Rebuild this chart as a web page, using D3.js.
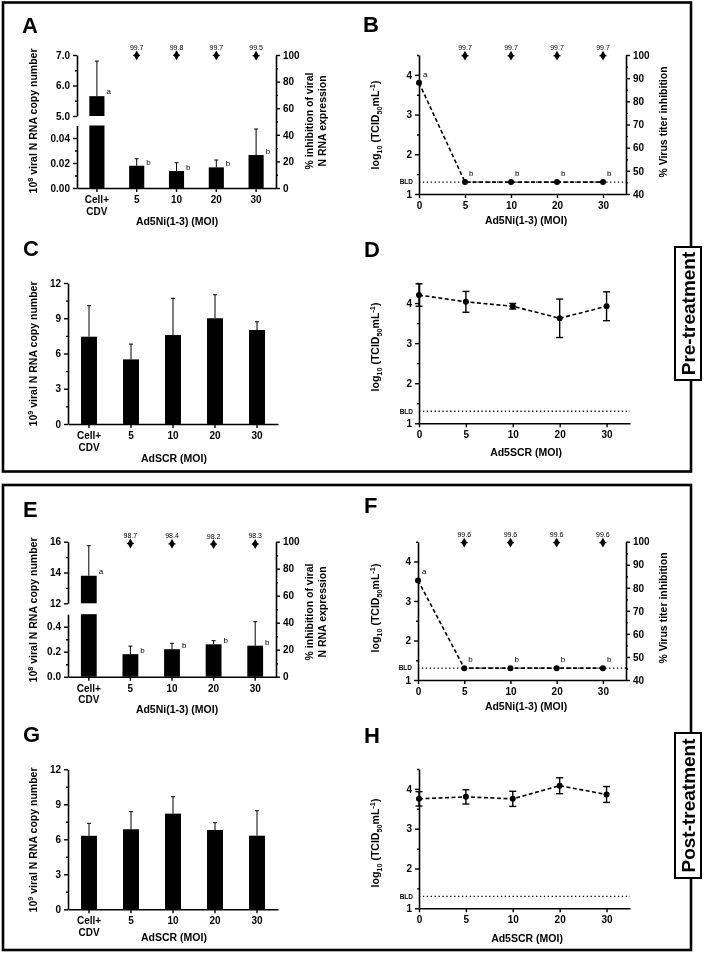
<!DOCTYPE html>
<html><head><meta charset="utf-8">
<script src="https://cdn.jsdelivr.net/npm/d3@7"></script>
<style>
body{margin:0;background:#fff;}
svg{display:block;font-family:"Liberation Sans",Arial,sans-serif;will-change:transform;}
text{fill:#000;}
</style></head><body>
<svg id="c" width="709" height="961"></svg>
<script>
// ---------- DATA ----------
const barCats = ["Cell+\nCDV","5","10","20","30"];
const moiCats = ["0","5","10","20","30"];
const BLD = 1.3;

// A: pre-treatment, Ad5Ni(1-3), qPCR (10^8 copies)
const aMean = [5.65, 0.0178, 0.0136, 0.0165, 0.0264];
const aSD   = [1.15, 0.0056, 0.0066, 0.0059, 0.0208];
const aSig  = ["a","b","b","b","b"];
const aInhib = [99.7, 99.8, 99.7, 99.5];

// B: pre-treatment, Ad5Ni(1-3), titer
const bMean = [3.8, 1.3, 1.3, 1.3, 1.3];
const bSig  = ["a","b","b","b","b"];
const bInhib = [99.7, 99.7, 99.7, 99.7];

// C: pre-treatment, AdSCR, qPCR (10^9)
const cMean = [7.43, 5.5, 7.57, 9.0, 8.0];
const cSD   = [2.64, 1.3, 3.13, 2.0, 0.7];

// D: pre-treatment, Ad5SCR titer
const dMean = [4.2, 4.03, 3.92, 3.62, 3.92];
const dSD   = [0.28, 0.26, 0.07, 0.48, 0.36];

// E: post-treatment, Ad5Ni(1-3), qPCR (10^8)
const eMean = [13.79, 0.18, 0.22, 0.259, 0.248];
const eSD   = [1.95, 0.065, 0.047, 0.029, 0.192];
const eSig  = ["a","b","b","b","b"];
const eInhib = [98.7, 98.4, 98.2, 98.3];

// F: post-treatment, Ad5Ni(1-3), titer
const fMean = [3.52, 1.3, 1.3, 1.3, 1.3];
const fSig  = ["a","b","b","b","b"];
const fInhib = [99.6, 99.6, 99.6, 99.6];

// G: post-treatment, AdSCR, qPCR (10^9)
const gMean = [6.3, 6.86, 8.2, 6.8, 6.31];
const gSD   = [1.07, 1.51, 1.45, 0.62, 2.14];

// H: post-treatment, Ad5SCR titer
const hMean = [3.75, 3.8, 3.75, 4.08, 3.86];
const hSD   = [0.18, 0.18, 0.19, 0.2, 0.2];

// ---------- DRAW ----------
const svg = d3.select("#c");
const TF = 10; // tick font

function styleAxis(g){
  g.attr("font-family", null).attr("font-size", null);
  g.selectAll("path.domain").attr("stroke","#000").attr("stroke-width",1.6);
  g.selectAll(".tick line").attr("stroke","#000").attr("stroke-width",1.4);
  g.selectAll(".tick text").attr("font-size",TF).attr("font-weight","bold").attr("fill","#000");
  return g;
}
function multiline(g){
  g.selectAll(".tick text").each(function(){
    const t = d3.select(this); const parts = t.text().split("\n");
    if(parts.length>1){
      t.text(null).attr("dy",null);
      parts.forEach((p,i)=>t.append("tspan").attr("x",0).attr("dy", i===0?"0.71em":"1.15em").text(p));
    }
  });
}
function leftAxis(scale, x, ticks, minor, fmt, side){
  const mk = side==="right" ? d3.axisRight : d3.axisLeft;
  const g = svg.append("g").attr("transform",`translate(${x},0)`)
    .call(mk(scale).tickValues(ticks).tickFormat(fmt).tickSize(4).tickSizeOuter(0).tickPadding(3));
  styleAxis(g);
  if(minor && minor.length){
    const m = svg.append("g").attr("transform",`translate(${x},0)`)
      .call(mk(scale).tickValues(minor).tickFormat("").tickSize(2).tickSizeOuter(0));
    styleAxis(m); m.select("path.domain").remove();
  }
  return g;
}
function rich(sel, parts, fs){
  let off = 0;
  parts.forEach(([txt,type])=>{
    let target = type==="sup" ? -fs*0.38 : type==="sub" ? fs*0.28 : 0;
    sel.append("tspan").attr("dy", target-off).attr("font-size", type==="n"?fs:fs*0.7).text(txt);
    off = target;
  });
}
function vTitle(x, y, parts, fs){
  const t = svg.append("text").attr("transform",`translate(${x},${y}) rotate(-90)`)
    .attr("text-anchor","middle").attr("font-weight","bold").attr("font-size",fs);
  rich(t, parts, fs);
  return t;
}
function hTitle(x, y, txt){
  svg.append("text").attr("x",x).attr("y",y).attr("text-anchor","middle")
    .attr("font-weight","bold").attr("font-size",10.5).text(txt);
}
function letter(x, y, L){
  svg.append("text").attr("x",x).attr("y",y).attr("font-weight","bold").attr("font-size",22).text(L);
}
function inhibMarkers(xs, yR, vals){
  const g = svg.append("g");
  vals.forEach((v,i)=>{
    const x = xs[i], y = yR(v);
    g.append("path").attr("d", d3.symbol(d3.symbolDiamond, 28)()).attr("transform",`translate(${x},${y})`).attr("fill","#000");
    g.append("line").attr("x1",x-3.5).attr("x2",x+3.5).attr("y1",y).attr("y2",y).attr("stroke","#000").attr("stroke-width",1.2);
    g.append("text").attr("x",x).attr("y",y-5.5).attr("text-anchor","middle").attr("font-size",7).text(d3.format(".1f")(v));
  });
}

// ----- broken bar panel (A, E) -----
function brokenPanel(c){
  const x = d3.scaleBand().domain(barCats).range([c.x0, c.x1]).paddingInner(0.62).paddingOuter(0.31);
  const yLow = d3.scaleLinear().domain([0, c.lowMax]).range([c.yBase, c.lowTop]);
  const yUp = d3.scaleLinear().domain([c.upMin, c.upMax]).range([c.upBot, c.upTop]);
  const yR = d3.scaleLinear().domain([0,100]).range([c.yBase, c.upTop]);
  const g = svg.append("g");
  c.mean.forEach((m,i)=>{
    const xl = x(barCats[i]), w = x.bandwidth();
    const top = m + c.sd[i];
    if(m > c.lowMax){
      g.append("rect").attr("x",xl).attr("width",w).attr("y",yLow(c.lowMax)).attr("height",yLow(0)-yLow(c.lowMax));
      g.append("rect").attr("x",xl).attr("width",w).attr("y",yUp(m)).attr("height",yUp(c.upMin)-yUp(m));
      g.append("line").attr("x1",xl+w/2).attr("x2",xl+w/2).attr("y1",yUp(m)).attr("y2",yUp(top)).attr("stroke","#000").attr("stroke-width",1);
      g.append("line").attr("x1",xl+w/2-2).attr("x2",xl+w/2+2).attr("y1",yUp(top)).attr("y2",yUp(top)).attr("stroke","#000").attr("stroke-width",1);
      g.append("text").attr("x",xl+w+2).attr("y",yUp(m)-2).attr("font-size",8).text(c.sig[i]);
    } else {
      g.append("rect").attr("x",xl).attr("width",w).attr("y",yLow(m)).attr("height",yLow(0)-yLow(m));
      g.append("line").attr("x1",xl+w/2).attr("x2",xl+w/2).attr("y1",yLow(m)).attr("y2",yLow(top)).attr("stroke","#000").attr("stroke-width",1);
      g.append("line").attr("x1",xl+w/2-2).attr("x2",xl+w/2+2).attr("y1",yLow(top)).attr("y2",yLow(top)).attr("stroke","#000").attr("stroke-width",1);
      g.append("text").attr("x",xl+w+2).attr("y",yLow(m)-1).attr("font-size",8).text(c.sig[i]);
    }
  });
  leftAxis(yLow, c.x0, c.lowTicks, c.lowMinor, d3.format(c.lowFmt));
  leftAxis(yUp, c.x0, c.upTicks, c.upMinor, d3.format(c.upFmt));
  leftAxis(yR, c.x1, [0,20,40,60,80,100], [10,30,50,70,90], d3.format("d"), "right");
  const gx = svg.append("g").attr("transform",`translate(0,${c.yBase})`)
    .call(d3.axisBottom(x).tickSize(4).tickSizeOuter(0).tickPadding(4));
  styleAxis(gx); multiline(gx);
  inhibMarkers(barCats.slice(1).map(k=>x(k)+x.bandwidth()/2), yR, c.inhib);
}

// ----- simple bar panel (C, G) -----
function barPanel(c){
  const x = d3.scaleBand().domain(barCats).range([c.x0, c.x1]).paddingInner(0.62).paddingOuter(0.31);
  const y = d3.scaleLinear().domain([0,12]).range([c.yBase, c.yTop]);
  const g = svg.append("g");
  c.mean.forEach((m,i)=>{
    const xl = x(barCats[i]), w = x.bandwidth(), top = m + c.sd[i];
    g.append("rect").attr("x",xl).attr("width",w).attr("y",y(m)).attr("height",y(0)-y(m));
    g.append("line").attr("x1",xl+w/2).attr("x2",xl+w/2).attr("y1",y(m)).attr("y2",y(top)).attr("stroke","#000").attr("stroke-width",1);
    g.append("line").attr("x1",xl+w/2-2).attr("x2",xl+w/2+2).attr("y1",y(top)).attr("y2",y(top)).attr("stroke","#000").attr("stroke-width",1);
  });
  leftAxis(y, c.x0, [0,3,6,9,12], [1.5,4.5,7.5,10.5], d3.format("d"));
  const gx = svg.append("g").attr("transform",`translate(0,${c.yBase})`)
    .call(d3.axisBottom(x).tickSize(4).tickSizeOuter(0).tickPadding(4));
  styleAxis(gx); multiline(gx);
}

// ----- line panel (B, D, F, H) -----
function linePanel(c){
  const x = d3.scaleLinear().domain([0,4.5]).range([c.x0, c.x1]);
  const y = d3.scaleLinear().domain([1,4.5]).range([c.yBase, c.yTop]);
  const idx = moiCats.map((_,i)=>i);
  const g = svg.append("g");
  g.append("line").attr("x1",x(0)).attr("x2",x(4.5)).attr("y1",y(BLD)).attr("y2",y(BLD))
    .attr("stroke","#000").attr("stroke-width",1.3).attr("stroke-dasharray","1.3,2.6");
  g.append("text").attr("x",x(0)-6).attr("y",y(BLD)+2.3).attr("text-anchor","end")
    .attr("font-size",6.5).attr("font-weight","bold").text("BLD");
  g.append("path").datum(c.mean).attr("fill","none").attr("stroke","#000").attr("stroke-width",1.6)
    .attr("stroke-dasharray","4,2.5")
    .attr("d", d3.line().x((d,i)=>x(idx[i])).y(d=>y(d)));
  if(c.sd){
    c.mean.forEach((m,i)=>{
      const xx = x(idx[i]);
      const lo = Math.max(1, m - c.sd[i]), hi = m + c.sd[i];
      g.append("line").attr("x1",xx).attr("x2",xx).attr("y1",y(lo)).attr("y2",y(hi)).attr("stroke","#000").attr("stroke-width",1.4);
      [lo,hi].forEach(v=>g.append("line").attr("x1",xx-3.5).attr("x2",xx+3.5).attr("y1",y(v)).attr("y2",y(v)).attr("stroke","#000").attr("stroke-width",1.4));
    });
  }
  c.mean.forEach((m,i)=>{
    g.append("circle").attr("cx",x(idx[i])).attr("cy",y(m)).attr("r",3).attr("fill","#000");
    if(c.sig) g.append("text").attr("x",x(idx[i])+4).attr("y",y(m)-6).attr("font-size",8).text(c.sig[i]);
  });
  leftAxis(y, c.x0, [1,2,3,4], [1.5,2.5,3.5,4.5], d3.format("d"));
  const gx = svg.append("g").attr("transform",`translate(0,${c.yBase})`)
    .call(d3.axisBottom(x).tickValues(idx).tickFormat(i=>moiCats[i]).tickSize(4).tickSizeOuter(0).tickPadding(4));
  styleAxis(gx);
  if(c.inhib){
    const yR = d3.scaleLinear().domain([40,100]).range([c.yBase, c.yTop]);
    leftAxis(yR, c.x1, [40,50,60,70,80,90,100], [45,55,65,75,85,95], d3.format("d"), "right");
    inhibMarkers(idx.slice(1).map(i=>x(i)), yR, c.inhib);
  }
}

function frame(y0,h){
  svg.append("rect").attr("x",3).attr("y",y0).attr("width",688).attr("height",h)
    .attr("fill","none").attr("stroke","#000").attr("stroke-width",2.6);
}
frame(2.5,469); frame(485,465);

const logTitle = [["log","n"],["10","sub"],[" (TCID","n"],["50","sub"],["mL","n"],["-1","sup"],[")","n"]];
function pctTwoLine(x,y){
  const t=svg.append("text").attr("transform",`translate(${x},${y}) rotate(-90)`).attr("text-anchor","middle").attr("font-weight","bold").attr("font-size",10.5);
  t.append("tspan").attr("x",0).text("% inhibition of viral");
  t.append("tspan").attr("x",0).attr("dy",12.5).text("N RNA expression");
}
function virusTitle(x,y){
  svg.append("text").attr("transform",`translate(${x},${y}) rotate(-90)`).attr("text-anchor","middle").attr("font-weight","bold").attr("font-size",10.5).text("% Virus titer inhibition");
}

// Panel A
letter(22,33,"A");
brokenPanel({x0:77,x1:276,yBase:188,lowTop:125.5,upBot:116,upTop:55,lowMax:0.05,upMin:5,upMax:7,
  lowTicks:[0,0.02,0.04],lowMinor:[0.01,0.03],upTicks:[5,6,7],upMinor:[5.5,6.5],lowFmt:".2f",upFmt:".1f",
  mean:aMean,sd:aSD,sig:aSig,inhib:aInhib});
vTitle(37,121,[["10","n"],["8","sup"],[" viral N RNA copy number","n"]],10.5);
pctTwoLine(313,121);
hTitle(177,225,"Ad5Ni(1-3) (MOI)");

// Panel B
letter(363,32,"B");
linePanel({x0:419,x1:626,yBase:194,yTop:55,mean:bMean,sig:bSig,inhib:bInhib});
vTitle(379,125,logTitle,10.5);
virusTitle(667,122);
hTitle(526,224,"Ad5Ni(1-3) (MOI)");

// Panel C
letter(23,256,"C");
barPanel({x0:68,x1:278,yBase:424,yTop:283,mean:cMean,sd:cSD});
vTitle(37,354,[["10","n"],["9","sup"],[" viral N RNA copy number","n"]],10.5);
hTitle(174,462,"AdSCR (MOI)");

// Panel D
letter(364,257,"D");
linePanel({x0:419,x1:630,yBase:423.3,yTop:283,mean:dMean,sd:dSD});
vTitle(379,347,logTitle,10.5);
hTitle(526,456,"Ad5SCR (MOI)");

// Panel E
letter(23,517,"E");
brokenPanel({x0:68,x1:276,yBase:676.7,lowTop:614.2,upBot:603.3,upTop:541.7,lowMax:0.5,upMin:12,upMax:16,
  lowTicks:[0,0.2,0.4],lowMinor:[0.1,0.3],upTicks:[12,14,16],upMinor:[13,15],lowFmt:".1f",upFmt:"d",
  mean:eMean,sd:eSD,sig:eSig,inhib:eInhib});
vTitle(37,610,[["10","n"],["8","sup"],[" viral N RNA copy number","n"]],10.5);
pctTwoLine(313,612);
hTitle(177,713,"Ad5Ni(1-3) (MOI)");

// Panel F
letter(364,513,"F");
linePanel({x0:418,x1:626,yBase:680,yTop:541.7,mean:fMean,sig:fSig,inhib:fInhib});
vTitle(379,608,logTitle,10.5);
virusTitle(667,608);
hTitle(526,710,"Ad5Ni(1-3) (MOI)");

// Panel G
letter(23,742,"G");
barPanel({x0:68,x1:278,yBase:909.3,yTop:769.3,mean:gMean,sd:gSD});
vTitle(37,840,[["10","n"],["9","sup"],[" viral N RNA copy number","n"]],10.5);
hTitle(174,941,"AdSCR (MOI)");

// Panel H
letter(364,743,"H");
linePanel({x0:419,x1:630,yBase:908.3,yTop:769,mean:hMean,sd:hSD});
vTitle(379,843,logTitle,10.5);
hTitle(527,942,"Ad5SCR (MOI)");

// Side labels
function sideLabel(y0,y1,txt){
  svg.append("rect").attr("x",675).attr("y",y0).attr("width",26).attr("height",y1-y0)
    .attr("fill","#fff").attr("stroke","#000").attr("stroke-width",2);
  svg.append("text").attr("transform",`translate(695,${(y0+y1)/2}) rotate(-90)`).attr("text-anchor","middle")
    .attr("font-weight","bold").attr("font-size",19).text(txt);
}
sideLabel(247,380,"Pre-treatment");
sideLabel(733,878,"Post-treatment");
</script>
</body></html>
